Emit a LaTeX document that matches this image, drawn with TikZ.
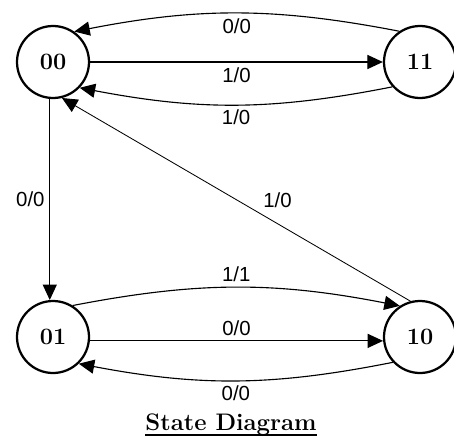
\documentclass[tikz,border=0pt]{standalone}
\usepackage{fontspec}
\usepackage{tikz}
\usetikzlibrary{arrows.meta}
\newfontfamily\edgefont{Liberation Sans}
\tikzstyle{state} = [circle, minimum size=1.8cm, inner sep=0pt, draw=black, line width=1.6pt, font=\fontsize{16.7}{20}\selectfont\bfseries]
\tikzstyle{arrow} = [line width=0.8pt,->,>={Triangle[length=11pt,width=10pt]}]
\tikzstyle{lbl} = [font=\edgefont\fontsize{14.5}{16}\selectfont]

\begin{document}
\begin{tikzpicture}[node distance=6.875cm]
      \useasboundingbox (0,0) rectangle (11.35,10.9);
      \node (s00)[state] at (1.325,9.35){00};
      \node (s01)[state, below of=s00]{01};
      \node (s11)[state, right of=s00, xshift=2.3cm]{11};
      \node (s10)[state, below of=s11]{10};
      \node (title)[anchor=base, inner sep=0pt, font=\fontsize{17}{20}\selectfont\bfseries] at (5.775,0.15){State Diagram};
      \draw [line width=1.2pt](title.south west)--(title.south east);
      % top pair
      \draw [arrow](s11.124) to[bend right=11] node[lbl, midway, below] {0/0} (s00.55);
      \draw [arrow](s00)--(s11) node[lbl, midway, below] {1/0};
      \draw [arrow](s11.222) to[bend left=11] node[lbl, midway, below] {1/0} (s00.316);
      % left and diagonal
      \draw [arrow](s00.265)--(s01.95) node[lbl, midway, left] {0/0};
      \draw [arrow, line width=0.6pt](s10.105)--(s00.284) node[lbl, pos=0.437, above right] {1/0};
      % bottom pair
      \draw [arrow](s01.58) to[bend left=11] node[lbl, midway, above] {1/1} (s10.123);
      \draw [arrow](s01.-6)--(s10.186) node[lbl, midway, above] {0/0};
      \draw [arrow](s10.223) to[bend left=11] node[lbl, midway, below] {0/0} (s01.314);
\end{tikzpicture}
\end{document}
